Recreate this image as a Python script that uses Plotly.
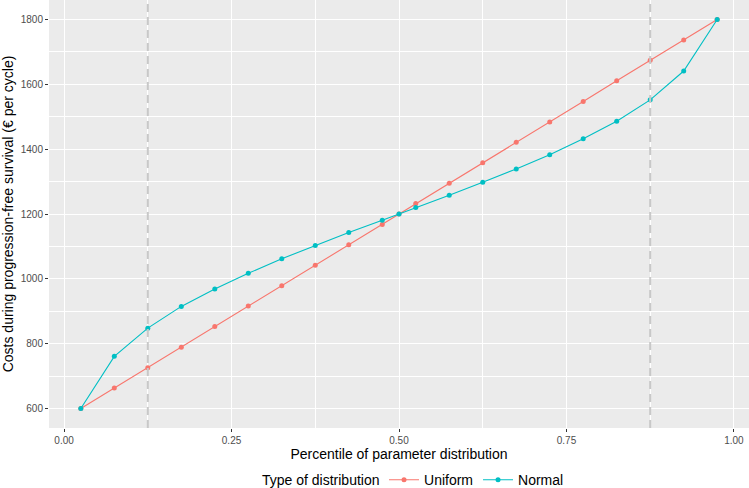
import plotly.graph_objects as go

percentile = [0.025, 0.075, 0.125, 0.175, 0.225, 0.275, 0.325, 0.375, 0.425, 0.475, 0.5,
              0.525, 0.575, 0.625, 0.675, 0.725, 0.775, 0.825, 0.875, 0.925, 0.975]
uniform_cost = [600, 663, 726, 789, 853, 916, 979, 1042, 1105, 1168, 1200,
                1232, 1295, 1358, 1421, 1484, 1547, 1611, 1674, 1737, 1800]
normal_cost = [600, 761, 848, 915, 969, 1017, 1062, 1103, 1143, 1181, 1200,
               1220, 1258, 1298, 1339, 1383, 1432, 1486, 1552, 1641, 1800]
x_ticks = [0, 0.25, 0.5, 0.75, 1.0]
x_ticktext = ["0.00", "0.25", "0.50", "0.75", "1.00"]
y_ticks = [600, 800, 1000, 1200, 1400, 1600, 1800]
dashed_at = [0.125, 0.875]

fig = go.Figure()
fig.add_trace(go.Scatter(x=percentile, y=uniform_cost, name="Uniform", mode="lines+markers",
                         line=dict(color="#F8766D", width=1.1), marker=dict(size=5, color="#F8766D")))
fig.add_trace(go.Scatter(x=percentile, y=normal_cost, name="Normal", mode="lines+markers",
                         line=dict(color="#00BFC4", width=1.1), marker=dict(size=5, color="#00BFC4")))

fig.update_layout(
    width=749, height=488,
    margin=dict(l=49, r=0, t=0, b=60),
    paper_bgcolor="white",
    plot_bgcolor="#EBEBEB",
    font=dict(family="Liberation Sans, Arial, sans-serif", color="black"),
    shapes=[dict(type="line", x0=v, x1=v, y0=0, y1=1, xref="x", yref="paper", layer="above",
                 line=dict(color="#C8C8C8", width=2, dash="8px,5px")) for v in dashed_at],
    # legend title as a separate label so the entries sit closer like ggplot
    annotations=[dict(text="Type of distribution", x=0.4757, y=-0.1215, xref="paper", yref="paper",
                      xanchor="right", yanchor="middle", showarrow=False, font=dict(size=14))],
    legend=dict(orientation="h", x=0.4786, xanchor="left", y=0.016, yanchor="middle",
                yref="container", itemwidth=30,
                font=dict(size=14), bgcolor="rgba(0,0,0,0)"),
)
fig.update_xaxes(
    range=[-0.0225, 1.0225], tickvals=x_ticks, ticktext=x_ticktext,
    showgrid=True, gridcolor="white", gridwidth=1.3, zeroline=False,
    minor=dict(tickvals=[0.125, 0.375, 0.625, 0.875], showgrid=True, gridcolor="white", gridwidth=0.6),
    ticks="outside", ticklen=3, tickcolor="#333333", tickfont=dict(size=10, color="#4D4D4D"),
    title=dict(text="Percentile of parameter distribution", font=dict(size=14), standoff=2),
    automargin=False,
)
fig.update_yaxes(
    range=[540, 1860], tickvals=y_ticks,
    showgrid=True, gridcolor="white", gridwidth=1.3, zeroline=False,
    minor=dict(tickvals=[700, 900, 1100, 1300, 1500, 1700], showgrid=True, gridcolor="white", gridwidth=0.6),
    ticks="outside", ticklen=3, tickcolor="#333333", tickfont=dict(size=10, color="#4D4D4D"),
    title=dict(text="Costs during progression-free survival (€ per cycle)", font=dict(size=14), standoff=3),
    automargin=False,
)

fig.write_html("out.html", config={"displayModeBar": False},
               post_script="document.body.style.margin='0';")
